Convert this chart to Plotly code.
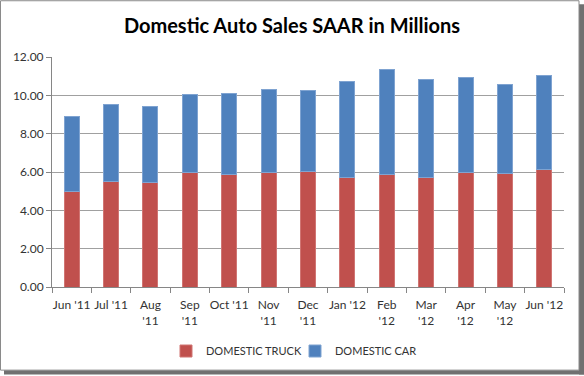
import plotly.graph_objects as go

categories = ["Jun '11", "Jul '11", "Aug<br>'11", "Sep<br>'11", "Oct '11", "Nov<br>'11",
              "Dec<br>'11", "Jan '12", "Feb<br>'12", "Mar<br>'12", "Apr<br>'12", "May<br>'12", "Jun '12"]
truck = [5.00, 5.52, 5.44, 5.96, 5.85, 5.96, 6.01, 5.71, 5.85, 5.71, 5.96, 5.92, 6.13]
total = [8.87, 9.51, 9.41, 10.03, 10.10, 10.30, 10.25, 10.73, 11.35, 10.83, 10.94, 10.57, 11.04]
car = [round(t - k, 2) for t, k in zip(total, truck)]
y_ticks = [0, 2, 4, 6, 8, 10, 12]

FONT = "Lato"
fig = go.Figure()
fig.add_trace(go.Bar(x=categories, y=truck, name="DOMESTIC TRUCK",
                     marker=dict(color="#C0504D", line=dict(color="#D07573", width=1))))
fig.add_trace(go.Bar(x=categories, y=car, name="DOMESTIC CAR",
                     marker=dict(color="#4F81BD", line=dict(color="#7FA3D1", width=1))))

L, R, T, B = 52, 564, 57, 288
W, H = R - L, B - T
def px(x): return (x - L) / W
def py(y): return (B - y) / H

shapes = [
    dict(type="rect", xref="paper", yref="paper", x0=px(579), x1=px(584), y0=py(4), y1=py(376),
         fillcolor="#707070", line=dict(width=0), layer="above"),
    dict(type="rect", xref="paper", yref="paper", x0=px(4), x1=px(584), y0=py(371.5), y1=py(376),
         fillcolor="#707070", line=dict(width=0), layer="above"),
    dict(type="rect", xref="paper", yref="paper", x0=px(0.5), x1=px(579), y0=py(0.5), y1=py(371.5),
         line=dict(color="#8a8a8a", width=1), layer="above"),
]

fig.update_layout(
    width=584, height=376,
    margin=dict(l=L, r=584 - R, t=T, b=376 - B),
    paper_bgcolor="white", plot_bgcolor="white",
    barmode="stack", bargap=0.62,
    title=dict(text="<b>Domestic Auto Sales SAAR in Millions</b>", x=0.5, xanchor="center",
               y=1 - 26 / 376, yanchor="middle",
               font=dict(family=FONT, size=20, color="#000000")),
    font=dict(family=FONT, size=12, color="#333333"),
    xaxis=dict(type="category", tickson="boundaries", ticks="outside", ticklen=5, tickangle=0,
               ticklabelstandoff=7,
               tickcolor="#868686", showline=True, linecolor="#868686", linewidth=1,
               tickfont=dict(family=FONT, size=12, color="#333333"), showgrid=False),
    yaxis=dict(range=[0, 12], tickvals=y_ticks, tickformat=".2f", ticks="outside", ticklen=5,
               tickcolor="#868686", showline=True, linecolor="#868686", linewidth=1,
               showgrid=True, gridcolor="#a0a0a0", gridwidth=1, zeroline=False,
               tickfont=dict(family=FONT, size=12, color="#333333")),
    legend=dict(orientation="h", x=0.5 - 13 / W, xanchor="center", y=py(351), yanchor="middle",
                traceorder="normal", font=dict(family=FONT, size=11, color="#333333"),
                itemwidth=30, entrywidth=84),
    shapes=shapes,
)
fig.write_html("out.html", config={"displayModeBar": False},
               post_script="document.body.style.margin='0';document.body.style.overflow='hidden';")
